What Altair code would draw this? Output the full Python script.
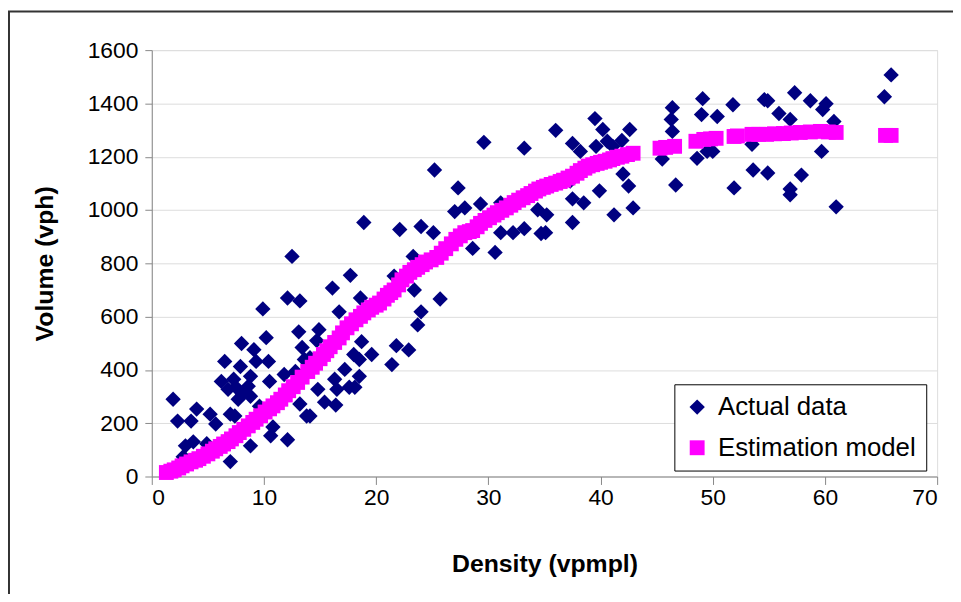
import altair as alt
import pandas as pd

# ---- Actual data (density vpmpl, volume vph) ----
actual_x = [9.9, 12.1, 13.2, 12.5, 13.1, 8.0, 10.2, 9.1, 6.5, 7.9, 9.3, 10.4, 13.4, 13.6,
            6.2, 7.3, 8.8, 8.6, 7.5, 6.8, 8.8, 7.7, 10.5, 11.8, 12.8, 1.9, 4.0, 5.2, 2.3,
            3.5, 5.7, 7.0, 7.4, 9.6, 13.2, 13.8, 10.8, 10.6, 12.1, 8.8, 3.0, 3.7, 4.9, 2.8,
            7.0, 14.9, 14.7, 8.1, 17.7, 16.1, 18.6, 16.7, 21.6, 21.8, 18.7, 19.6, 18.0,
            21.4, 14.1, 25.2, 27.3, 27.0, 27.9, 18.9, 22.1, 24.0, 25.1, 23.3, 23.4, 25.7,
            24.0, 23.7, 22.9, 39.5, 40.2, 42.6, 36.0, 29.6, 33.2, 37.5, 38.2, 39.6, 40.6,
            41.1, 41.9, 42.0, 42.5, 37.3, 39.9, 37.5, 38.5, 29.3, 31.1, 34.4, 35.2, 41.2,
            42.9, 37.5, 31.1, 32.2, 33.2, 34.7, 35.1, 28.6, 30.6, 65.9, 65.3, 57.3, 49.1,
            51.8, 54.6, 54.9, 58.7, 60.1, 59.8, 46.4, 46.3, 46.4, 49.0, 50.4, 55.9, 56.9,
            60.8, 53.5, 49.5, 50.0, 48.6, 45.5, 59.7, 53.6, 54.9, 57.9, 46.7, 51.9, 56.9,
            56.9, 61.0, 18.5, 17.2, 18.5, 16.3, 16.5, 17.6, 18.1, 14.8, 15.4, 16.4, 14.1]
actual_y = [629, 670, 659, 826, 543, 499, 521, 476, 432, 413, 432, 432, 484, 439,
            357, 365, 376, 339, 335, 327, 301, 290, 357, 383, 394, 290, 253, 234, 208,
            208, 197, 234, 227, 264, 272, 227, 186, 153, 138, 115, 115, 130, 123, 74,
            56, 551, 510, 309, 755, 707, 670, 618, 752, 491, 506, 458, 458,
            420, 446, 1150, 1083, 994, 1008, 953, 927, 938, 915, 826, 700, 666,
            618, 569, 475, 1343, 1302, 1302, 1299, 1254, 1232, 1250, 1220, 1239, 1258,
            1239, 1261, 1135, 1090, 1109, 1072, 1042, 1027, 1023, 1027, 1001, 982, 982,
            1008, 953, 915, 915, 930, 912, 915, 856, 841, 1507, 1425, 1440, 1418,
            1395, 1414, 1410, 1410, 1399, 1377, 1384, 1340, 1295, 1358, 1351, 1362, 1340,
            1332, 1247, 1220, 1220, 1194, 1191, 1220, 1150, 1139, 1131, 1094, 1083, 1079,
            1057, 1012, 439, 402, 376, 365, 327, 335, 335, 327, 279, 268, 227]

# ---- Estimation model (read along the magenta band) ----
model_x = [1.3, 1.7, 2.0, 2.4, 2.7, 3.1, 3.5, 3.9, 4.2, 4.6, 5.0, 5.4, 5.7, 6.1, 6.4,
           6.8, 7.1, 7.5, 7.8, 8.2, 8.6, 9.0, 9.3, 9.7, 10.1, 10.5, 10.8, 11.2, 11.5,
           11.9, 12.2, 12.6, 13.0, 13.4, 13.9, 14.3, 14.6, 15.0, 15.3, 15.6, 15.9, 16.3,
           16.7, 17.0, 17.4, 17.8, 18.2, 18.6, 18.9, 19.3, 19.6, 20.0, 20.3, 20.7, 21.0,
           21.3, 21.6, 22.0, 22.3, 22.7, 23.0, 23.4, 23.7, 24.1, 24.4, 24.9, 25.4, 25.8,
           26.2, 26.7, 27.1, 27.5, 27.9, 28.3, 28.6, 29.0, 29.3, 29.7, 30.1, 30.5, 30.8,
           31.2, 31.6, 32.0, 32.3, 32.7, 33.1, 33.5, 33.8, 34.2, 34.5, 34.9, 35.2, 35.6,
           36.0, 36.4, 36.7, 37.1, 37.5, 37.9, 38.2, 38.6, 38.9, 39.3, 39.7, 40.0, 40.4,
           40.8, 41.1, 41.5, 41.9, 42.4, 42.9, 45.3, 45.8, 46.6, 48.5, 49.2, 49.8, 50.3,
           51.9, 52.2, 53.5, 54.1, 54.8, 55.5, 56.3, 57.0, 57.8, 58.7, 59.6, 60.3, 61.0,
           65.4, 65.9]
model_y = [15, 20, 25, 32, 40, 47, 55, 61, 67, 76, 85, 95, 104, 113, 122,
           131, 141, 153, 165, 177, 190, 203, 215, 228, 242, 254, 265, 277, 290,
           306, 322, 337, 353, 373, 394, 410, 425, 442, 458, 472, 487, 503,
           520, 539, 558, 573, 588, 601, 614, 625, 635, 643, 651, 666, 680,
           690, 700, 719, 738, 752, 766, 776, 785, 795, 805, 813, 822, 838,
           855, 873, 890, 903, 915, 919, 923, 937, 950, 961, 971, 981, 990,
           999, 1008, 1018, 1028, 1037, 1046, 1054, 1062, 1071, 1079, 1085, 1090, 1096,
           1101, 1107, 1112, 1120, 1127, 1138, 1148, 1157, 1165, 1170, 1175, 1179, 1183,
           1188, 1193, 1198, 1202, 1208, 1213, 1232, 1235, 1239, 1258, 1265, 1267, 1269,
           1276, 1278, 1284, 1284, 1284, 1286, 1287, 1289, 1291, 1293, 1295, 1293, 1291,
           1280, 1280]

series_names = ["Actual data", "Estimation model"]
x_ticks = [0, 10, 20, 30, 40, 50, 60, 70]
y_ticks = [0, 200, 400, 600, 800, 1000, 1200, 1400, 1600]

df = pd.concat([
    pd.DataFrame({"density": actual_x, "volume": actual_y, "series": series_names[0]}),
    pd.DataFrame({"density": model_x, "volume": model_y, "series": series_names[1]}),
], ignore_index=True)

W, H = 792, 430
FONT = "Liberation Sans"

points = alt.Chart(df).mark_point(filled=True, opacity=1, strokeWidth=0).encode(
    x=alt.X("density:Q",
            scale=alt.Scale(domain=[0, 70], nice=False),
            axis=alt.Axis(values=x_ticks, title="Density (vpmpl)", grid=False,
                          tickSize=8, labelPadding=2, labelFontSize=23,
                          titleX=W / 2, titleY=88, titleBaseline="middle",
                          titleFontSize=25)),
    y=alt.Y("volume:Q",
            scale=alt.Scale(domain=[0, 1600], nice=False),
            axis=alt.Axis(values=y_ticks, format="d", title="Volume (vph)", grid=True,
                          tickSize=7, labelPadding=7, labelFontSize=23,
                          titleX=-108, titleY=H / 2, titleBaseline="middle",
                          titleAlign="center", titleFontSize=25)),
    color=alt.Color("series:N",
                    scale=alt.Scale(domain=series_names, range=["#000080", "#FF00FF"]),
                    title=None,
                    legend=alt.Legend(orient="none", legendX=527, legendY=337,
                                      fillColor="white", strokeColor="black",
                                      padding=10, labelFontSize=26, labelFont=FONT,
                                      labelColor="black", labelOffset=8,
                                      symbolSize=150, rowPadding=15,
                                      labelLimit=400)),
    shape=alt.Shape("series:N",
                    scale=alt.Scale(domain=series_names, range=["diamond", "square"]),
                    title=None),
    size=alt.Size("series:N",
                  scale=alt.Scale(domain=series_names, range=[240, 225]),
                  legend=None),
    order=alt.Order("series:N"),
)

frame = alt.Chart(alt.Data(values=[{}])).mark_rect(
    fill="transparent", stroke="#333333", strokeWidth=2
).encode(
    x=alt.value(-144), x2=alt.value(W + 60), y=alt.value(-39), y2=alt.value(H + 200)
)

chart = alt.layer(frame, points).properties(
    width=W, height=H,
    autosize=alt.AutoSizeParams(type="none"),
    padding={"left": 145, "top": 40, "right": 16, "bottom": 116},
).configure_view(
    fill="#C0C0C0", stroke="#808080", strokeWidth=1
).configure_axis(
    labelFont=FONT, titleFont=FONT, labelColor="black", titleColor="black",
    titleFontWeight="bold", domainColor="black", domainWidth=1,
    tickColor="black", gridColor="black", gridWidth=1, gridOpacity=1,
).configure(background="white")

chart.save("out.html", embed_options={"renderer": "svg", "actions": False})
